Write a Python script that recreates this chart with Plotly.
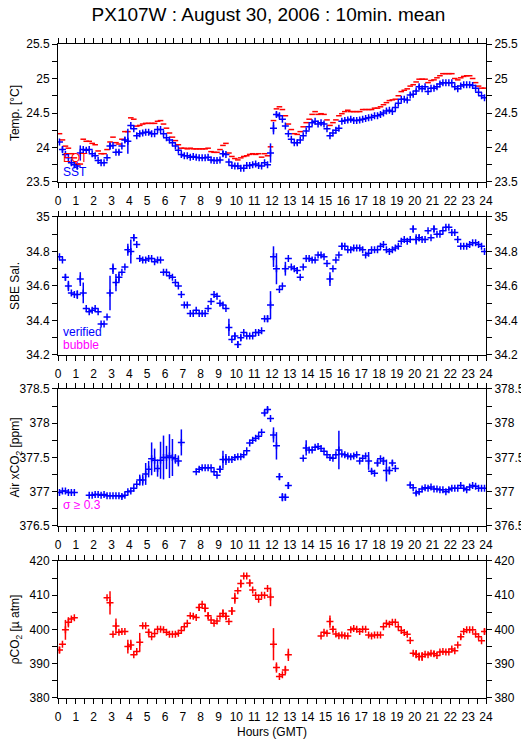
import plotly.graph_objects as go

# 10-minute bins, centre of each bin in hours (GMT)
hours = [(k + 0.5) / 6 for k in range(144)]

# one row per hour, 6 x 10min values
sst = [
    24.08, 23.97, 23.90, 23.85, 23.78, 23.75,
    23.73, 23.92, 23.97, 23.96, 23.97, 23.91,
    23.88, 23.81, 23.78, 23.78, 23.85, 24.02,
    24.03, 23.93, 23.93, 24.02, 24.11, 24.09,
    24.32, 24.27, 24.17, 24.20, 24.21, 24.22,
    24.22, 24.20, 24.20, 24.26, 24.26, 24.20,
    24.14, 24.11, 24.07, 24.02, 23.96, 23.90,
    23.88, 23.88, 23.86, 23.87, 23.86, 23.85,
    23.85, 23.85, 23.86, 23.82, 23.81, 23.81,
    23.82, 23.91, 23.90, 23.79, 23.74, 23.73,
    23.73, 23.70, 23.70, 23.74, 23.74, 23.75,
    23.76, 23.74, 23.73, 23.78, 23.75, 23.92,
    24.28, 24.48, 24.46, 24.41, 24.31, 24.20,
    24.12, 24.07, 24.07, 24.11, 24.17, 24.24,
    24.30, 24.36, 24.38, 24.34, 24.36, 24.34,
    24.27, 24.17, 24.21, 24.25, 24.28, 24.38,
    24.39, 24.40, 24.41, 24.39, 24.39, 24.40,
    24.41, 24.42, 24.43, 24.44, 24.46, 24.46,
    24.48, 24.50, 24.53, 24.54, 24.52, 24.58,
    24.64, 24.70, 24.70, 24.69, 24.76, 24.77,
    24.82, 24.88, 24.85, 24.88, 24.81, 24.86,
    24.86, 24.88, 24.92, 24.94, 24.94, 24.94,
    24.94, 24.88, 24.85, 24.89, 24.91, 24.91,
    24.91, 24.90, 24.86, 24.80, 24.75, 24.72,
]
sst_err = {1: 0.04, 4: 0.03, 6: 0.05, 7: 0.11, 17: 0.05, 20: 0.03, 22: 0.04,
           23: 0.18, 55: 0.04, 71: 0.14, 72: 0.09, 73: 0.04, 74: 0.03, 80: 0.03,
           120: 0.02, 121: 0.03, 126: 0.02}

eqt = [
    24.20, 24.11, 24.02, 23.99, 23.91, 23.85,
    23.76, 23.76, 24.12, 24.09, 24.09, 24.06,
    24.04, 23.95, 23.91, 23.91, 23.97, 24.08,
    24.15, 24.07, 24.05, 24.12, 24.23, 24.23,
    24.43, 24.41, 24.31, 24.32, 24.34, 24.35,
    24.35, 24.35, 24.35, 24.38, 24.39, 24.34,
    24.28, 24.21, 24.15, 24.10, 24.04, 23.99,
    23.99, 23.98, 23.99, 23.98, 23.98, 23.98,
    23.98, 23.98, 23.99, 23.94, 23.93, 23.93,
    23.97, 24.03, 24.06, 23.92, 23.87, 23.84,
    23.82, 23.85, 23.87, 23.88, 23.90, 23.91,
    23.90, 23.91, 23.86, 23.91, 23.88, 24.01,
    24.39, 24.56, 24.59, 24.55, 24.46, 24.34,
    24.26, 24.20, 24.19, 24.23, 24.30, 24.36,
    24.41, 24.48, 24.52, 24.48, 24.49, 24.48,
    24.40, 24.32, 24.36, 24.40, 24.46, 24.49,
    24.52, 24.54, 24.52, 24.52, 24.52, 24.52,
    24.55, 24.55, 24.55, 24.55, 24.57, 24.57,
    24.59, 24.62, 24.65, 24.68, 24.69, 24.70,
    24.75, 24.81, 24.83, 24.85, 24.89, 24.91,
    24.95, 24.99, 24.99, 24.99, 24.94, 24.97,
    24.98, 25.01, 25.04, 25.07, 25.07, 25.07,
    25.07, 25.00, 24.98, 25.01, 25.03, 25.04,
    25.04, 25.00, 24.94, 24.89, 24.86, 24.86,
]

sal = [
    34.77, 34.75, 34.65, 34.60, 34.56, 34.55,
    34.55, 34.64, 34.56, 34.47, 34.45, 34.46,
    34.47, 34.45, 34.38, 34.38, 34.42, 34.56,
    34.70, 34.62, 34.65, 34.68, 34.71, 34.81,
    34.80, 34.88, 34.84, 34.76, 34.75, 34.75,
    34.76, 34.76, 34.74, 34.75, 34.75, 34.68,
    34.68, 34.66, 34.65, 34.62, 34.60, 34.55,
    34.49, 34.49, 34.44, 34.44, 34.46, 34.44,
    34.44, 34.44, 34.47, 34.51, 34.55, 34.54,
    34.50, 34.49, 34.47, 34.36, 34.29, 34.31,
    34.26, 34.30, 34.33, 34.31, 34.31, 34.31,
    34.33, 34.33, 34.34, 34.41, 34.41, 34.49,
    34.77, 34.70, 34.58, 34.60, 34.70, 34.76,
    34.71, 34.70, 34.69, 34.65, 34.71, 34.76,
    34.76, 34.75, 34.75, 34.78, 34.78, 34.77,
    34.73, 34.64, 34.70, 34.75, 34.78, 34.83,
    34.83, 34.81, 34.81, 34.82, 34.82, 34.82,
    34.81, 34.78, 34.79, 34.81, 34.81, 34.81,
    34.83, 34.84, 34.81, 34.80, 34.81, 34.82,
    34.83, 34.86, 34.87, 34.86, 34.87, 34.93,
    34.87, 34.88, 34.87, 34.87, 34.92, 34.88,
    34.93, 34.90, 34.90, 34.92, 34.94, 34.94,
    34.91, 34.91, 34.87, 34.83, 34.83, 34.83,
    34.84, 34.85, 34.85, 34.84, 34.83, 34.80,
]
sal_err = {2: 0.02, 3: 0.03, 6: 0.025, 7: 0.04, 8: 0.06, 17: 0.10, 18: 0.03,
           19: 0.05, 20: 0.03, 23: 0.035, 24: 0.07, 25: 0.02, 57: 0.05, 59: 0.02,
           60: 0.02, 61: 0.02, 70: 0.02, 71: 0.08, 72: 0.06, 73: 0.09, 76: 0.04,
           80: 0.02, 91: 0.04, 95: 0.02, 119: 0.02, 120: 0.03, 121: 0.02, 126: 0.02}

xco2 = [
    376.99, 377.01, 377.01, 376.99, 376.99, 376.99,
    None, None, None, None, 376.95, 376.95,
    376.96, 376.96, 376.95, 376.96, 376.94, 376.94,
    376.94, 376.94, 376.94, 376.93, 376.95, 377.00,
    377.01, 377.05, 377.11, 377.17, 377.17, 377.26,
    377.33, 377.48, 377.46, 377.34, 377.46, 377.50,
    377.50, 377.52, 377.50, 377.48, 377.45, 377.72,
    None, None, None, None, 377.29, 377.33,
    377.35, 377.35, 377.35, 377.35, 377.29, 377.24,
    377.33, 377.47, 377.47, 377.47, 377.47, 377.50,
    377.51, 377.51, 377.54, 377.60, 377.71, 377.75,
    377.78, 377.81, 377.87, 378.15, 378.20, 378.07,
    377.83, 377.67, 377.22, 376.92, 376.92, 377.09,
    None, None, None, None, 377.49, 377.64,
    377.61, 377.61, 377.65, 377.66, 377.63, 377.59,
    377.54, 377.50, 377.49, 377.54, 377.61, 377.55,
    377.54, 377.52, 377.51, 377.52, 377.54, 377.45,
    377.49, 377.52, 377.45, 377.30, 377.27, 377.42,
    377.48, 377.45, 377.31, 377.31, 377.42, 377.34,
    None, None, None, None, 377.10, 377.06,
    376.98, 377.00, 377.04, 377.06, 377.05, 377.07,
    377.04, 377.04, 377.03, 377.03, 377.00, 377.03,
    377.05, 377.05, 377.05, 377.09, 377.05, 377.03,
    377.07, 377.09, 377.08, 377.05, 377.05, 377.05,
]
xco2_err = {21: 0.03, 27: 0.08, 28: 0.08, 29: 0.16, 30: 0.12, 31: 0.24, 32: 0.17,
            33: 0.12, 34: 0.27, 35: 0.32, 36: 0.17, 37: 0.32, 38: 0.27, 39: 0.07,
            40: 0.08, 41: 0.19, 54: 0.05, 55: 0.13, 56: 0.08, 69: 0.04, 70: 0.04,
            72: 0.11, 73: 0.20, 74: 0.05, 75: 0.06, 76: 0.05, 77: 0.05, 83: 0.11,
            94: 0.28, 104: 0.13, 105: 0.03, 107: 0.05, 109: 0.06, 110: 0.16,
            111: 0.06, 112: 0.04, 118: 0.02, 120: 0.03, 136: 0.03}

pco2 = [
    394.0, 395.7, 399.9, 402.1, 403.1, 403.4,
    None, None, None, None, None, None,
    None, None, None, None, 409.3, 407.8,
    398.6, 401.0, 399.2, 399.4, 399.4, 395.0,
    395.5, 392.6, 393.6, 396.3, 401.1, 401.1,
    399.2, 397.9, 398.8, 400.1, 400.1, 399.9,
    399.2, 398.6, 398.6, 398.6, 398.9, 399.7,
    400.8, 401.8, 404.0, 403.9, 403.5, 406.4,
    407.4, 406.2, 404.0, 402.8, 401.8, 402.5,
    403.9, 404.7, 403.9, 402.3, 405.4, 409.1,
    411.3, 413.4, 415.6, 415.6, 413.6, 411.5,
    410.0, 408.8, 410.0, 410.0, 412.0, 409.5,
    395.7, 388.9, 386.3, 386.8, 388.2, 392.6,
    None, None, None, None, None, None,
    None, None, None, None, 398.1, 399.2,
    398.9, 402.3, 400.1, 398.7, 398.2, 398.4,
    398.2, 398.1, 399.9, 400.3, 400.1, 399.4,
    400.1, 400.1, 398.4, 398.1, 398.4, 398.4,
    398.4, 400.8, 401.8, 401.5, 402.1, 402.1,
    400.8, 399.7, 399.1, 398.6, 396.8, 393.1,
    392.8, 392.1, 392.1, 392.8, 392.6, 393.1,
    392.9, 392.4, 393.4, 393.6, 393.4, 393.4,
    394.3, 393.8, 395.5, 397.9, 399.4, 399.9,
    399.9, 399.9, 398.7, 397.9, 396.7, 399.4,
]
pco2_err = {0: 1.0, 2: 2.9, 3: 1.5, 17: 3.4, 19: 2.2, 23: 2.0, 24: 1.5, 27: 2.7,
            30: 1.0, 47: 1.0, 49: 1.2, 50: 1.0, 55: 1.2, 56: 1.0, 58: 1.2, 59: 1.6,
            61: 1.2, 64: 1.0, 71: 2.7, 72: 4.7, 73: 1.5, 76: 1.2, 77: 1.8, 91: 1.8,
            92: 0.9, 120: 1.2, 121: 1.2, 122: 1.3, 126: 0.8, 135: 0.8, 143: 0.9}

BLUE = "#0000FF"
RED = "#FF0000"
MAGENTA = "#FF00FF"
FONT = "Liberation Sans, Arial, sans-serif"

# y domains (paper) of the four panels, top to bottom
domains = [[0.789, 1.0], [0.5245, 0.7355], [0.263, 0.4725], [0.0, 0.2095]]
y_ranges = [[23.5, 25.5], [34.2, 35.0], [376.5, 378.5], [380, 420]]
y_ticks = [
    ([23.5 + 0.25 * i for i in range(9)], ["23.5", "", "24", "", "24.5", "", "25", "", "25.5"]),
    ([34.2 + 0.1 * i for i in range(9)], ["34.2", "", "34.4", "", "34.6", "", "34.8", "", "35"]),
    ([376.5 + 0.25 * i for i in range(9)], ["376.5", "", "377", "", "377.5", "", "378", "", "378.5"]),
    ([380 + 5 * i for i in range(9)], ["380", "", "390", "", "400", "", "410", "", "420"]),
]
y_titles = ["Temp. [°C]", "SBE Sal.", "Air xCO<sub>2</sub> [ppm]", "ρCO<sub>2</sub> [µ atm]"]


def err_list(big):
    return [big.get(i, 0.0) for i in range(144)]


fig = go.Figure()


def add_cross(y, err, color, row):
    sfx = "" if row == 1 else str(row)
    fig.add_trace(go.Scatter(
        x=hours, y=y, mode="markers", xaxis="x" + sfx, yaxis="y" + sfx,
        marker=dict(symbol="cross-thin-open", size=5, color=color,
                    line=dict(color=color, width=1.5)),
        error_y=dict(type="data", array=err_list(err), width=0, thickness=1.5, color=color),
        showlegend=False, hoverinfo="x+y",
    ))


fig.add_trace(go.Scatter(
    x=hours, y=eqt, mode="markers", xaxis="x", yaxis="y",
    marker=dict(symbol="line-ew-open", size=4, color=RED, line=dict(color=RED, width=1.5)),
    showlegend=False,
))
add_cross(sst, sst_err, BLUE, 1)
add_cross(sal, sal_err, BLUE, 2)
add_cross(xco2, xco2_err, BLUE, 3)
add_cross(pco2, pco2_err, RED, 4)

# empty traces so the right-hand mirror axes get drawn
for r in range(4):
    fig.add_trace(go.Scatter(x=[None], y=[None], xaxis="x" + ("" if r == 0 else str(r + 1)),
                             yaxis="y%d" % (r + 5), showlegend=False))

axis_common = dict(showgrid=False, zeroline=False, showline=True, linecolor="black",
                   linewidth=1, ticks="outside", ticklen=5, tickwidth=1, tickcolor="black",
                   automargin=False,
                   tickfont=dict(size=12, color="black", family=FONT))

x_vals = [0.5 * i for i in range(49)]
x_text = [str(int(v)) if v == int(v) else "" for v in x_vals]

layout = {}
for r in range(4):
    sfx = "" if r == 0 else str(r + 1)
    layout["xaxis" + sfx] = dict(
        axis_common, range=[0, 24], domain=[0, 1], anchor="y" + sfx,
        tickvals=x_vals, ticktext=x_text, mirror="ticks", ticklabelstandoff=3,
        title=dict(text="Hours (GMT)" if r == 3 else "", font=dict(size=12, family=FONT),
                   standoff=4),
    )
    layout["yaxis" + sfx] = dict(
        axis_common, range=y_ranges[r], domain=domains[r], anchor="x" + sfx,
        tickvals=y_ticks[r][0], ticktext=y_ticks[r][1], mirror=True,
        title=dict(text=y_titles[r], font=dict(size=12, family=FONT), standoff=7),
    )
    layout["yaxis%d" % (r + 5)] = dict(
        axis_common, range=y_ranges[r], overlaying="y" + sfx, side="right",
        anchor="x" + sfx, tickvals=y_ticks[r][0], ticktext=y_ticks[r][1],
    )

fig.update_layout(**layout)

annots = [
    ("EQT", RED, "x domain", "y domain", 0.174),
    ("SST", BLUE, "x domain", "y domain", 0.072),
    ("verified", BLUE, "x2 domain", "y2 domain", 0.167),
    ("bubble", MAGENTA, "x2 domain", "y2 domain", 0.072),
    ("σ ≥ 0.3", MAGENTA, "x3 domain", "y3 domain", 0.153),
]
for text, color, xr, yr, yy in annots:
    fig.add_annotation(text=text, xref=xr, yref=yr, x=0.006, y=yy, xanchor="left",
                       yanchor="middle", showarrow=False,
                       font=dict(size=12, color=color, family=FONT))

# the page body adds an 8px offset, so the figure is 8px smaller than the window
fig.update_layout(
    width=521, height=731,
    title=dict(text="PX107W : August 30, 2006 : 10min. mean", x=0.5, xref="container",
               xanchor="center", y=1, yref="container", yanchor="top",
               font=dict(size=19, color="black", family=FONT)),
    margin=dict(l=50, r=43, t=36, b=41, autoexpand=False),
    paper_bgcolor="white",
    plot_bgcolor="white",
    font=dict(family=FONT, color="black"),
)

fig.write_html("out.html")
